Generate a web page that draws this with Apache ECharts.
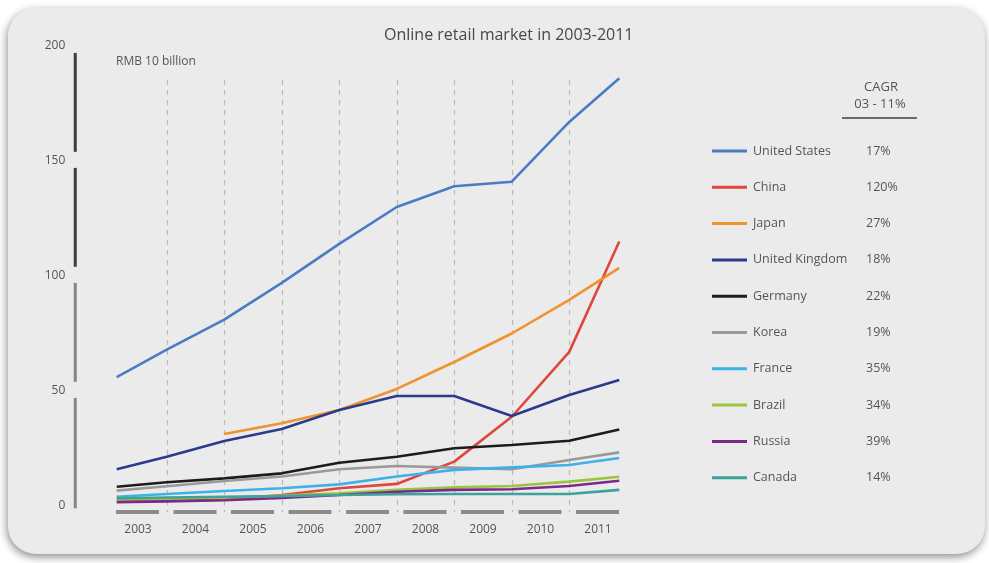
<!DOCTYPE html>
<html>
<head>
<meta charset="utf-8">
<script src="https://cdn.jsdelivr.net/npm/echarts@6/dist/echarts.min.js"></script>
<style>
  html, body { margin: 0; padding: 0; background: #ffffff; }
  #chart { width: 989px; height: 563px; }
</style>
</head>
<body>
<div id="chart"></div>
<script>
// Years shown along the bottom
const years = ['2003', '2004', '2005', '2006', '2007', '2008', '2009', '2010', '2011'];
// Horizontal position of each reading, in category units (0 = left edge of 2003, 9 = right edge of 2011)
const readingPos = [0.13, 1, 2, 3, 4, 5, 6, 7, 8, 8.87];

// Market size, RMB 10 billion
const unitedStates  = [56, 68, 81, 97, 114, 130, 139, 141, 167, 186];
const china         = [2.2, 2.3, 2.7, 4.8, 7.7, 9.6, 19.3, 38.8, 67, 115];
const japan         = [null, null, 31.3, 36, 41.7, 50.9, 62.6, 75, 89.6, 103.5];
const unitedKingdom = [16, 21.4, 28.3, 33.5, 41.7, 47.8, 47.8, 39.1, 48.3, 54.8];
const germany       = [8.4, 10.3, 12, 14.2, 18.8, 21.4, 25.1, 26.5, 28.4, 33.3];
const korea         = [6.7, 8.6, 10.9, 12.8, 16, 17.4, 16.7, 16, 20, 23.3];
const france        = [4, 5.2, 6.5, 7.7, 9.4, 12.8, 15.7, 16.8, 17.8, 20.9];
const brazil        = [2.8, 3.2, 3.6, 4.5, 5.5, 7, 8.1, 8.7, 10.6, 12.7];
const russia        = [1.6, 2, 2.5, 3.5, 4.8, 6.2, 7, 7.3, 8.7, 11];
const canada        = [3.4, 3.7, 4, 4.3, 4.8, 5.1, 5.2, 5.2, 5.2, 7];

const countries = ['United States', 'China', 'Japan', 'United Kingdom', 'Germany', 'Korea', 'France', 'Brazil', 'Russia', 'Canada'];
const cagr = ['17%', '120%', '27%', '18%', '22%', '19%', '35%', '34%', '39%', '14%'];
const seriesValues = [unitedStates, china, japan, unitedKingdom, germany, korea, france, brazil, russia, canada];
const colors = ['#4a7cc4', '#e0473c', '#f0922e', '#2a3b8c', '#1c1c1c', '#9a9a9a', '#3cb2e8', '#9cc43c', '#7a2a8c', '#3fa29a'];

const yTicks = [0, 50, 100, 150, 200];

const FONT = '"Open Sans", "Noto Sans", sans-serif';
const GRID_LEFT = 109.25;
const GRID_W = 517.5;

const chart = echarts.init(document.getElementById('chart'), null, { renderer: 'canvas' });

const cagrByName = {};
countries.forEach((c, i) => { cagrByName[c] = cagr[i]; });

const lineSeries = countries.map((name, i) => ({
  name: name,
  type: 'line',
  xAxisIndex: 0,
  yAxisIndex: 0,
  symbol: 'none',
  smooth: false,
  color: colors[i],
  lineStyle: { width: 2.6, color: colors[i] },
  z: 3,
  data: seriesValues[i]
    .map((v, k) => (v == null ? null : [readingPos[k], v]))
    .filter(p => p !== null)
}));

const option = {
  backgroundColor: '#ffffff',
  animation: false,
  textStyle: { fontFamily: FONT },
  title: {
    text: 'Online retail market in 2003-2011',
    left: 379,
    top: 22,
    textStyle: { fontFamily: FONT, fontSize: 16, fontWeight: 'normal', color: '#474747' }
  },
  legend: {
    orient: 'vertical',
    left: 707,
    top: 138,
    itemWidth: 35,
    itemHeight: 3,
    itemGap: 20.3,
    icon: 'rect',
    data: countries,
    formatter: name => `{n|${name}}{p|${cagrByName[name]}}`,
    textStyle: {
      fontFamily: FONT,
      fontSize: 12.5,
      color: '#555',
      lineHeight: 16,
      rich: {
        n: { width: 113, padding: [0, 0, 0, 1], fontSize: 12.5, color: '#555', fontFamily: FONT },
        p: { fontSize: 12.5, color: '#555', fontFamily: FONT }
      }
    }
  },
  grid: [
    // plot area for the lines
    { left: GRID_LEFT, top: 46, width: GRID_W, height: 460 },
    // year bands, dashed separators and the year labels
    { left: GRID_LEFT, top: 80, width: GRID_W, height: 432 }
  ],
  xAxis: [
    {
      type: 'value', gridIndex: 0, min: 0, max: 9,
      show: false
    },
    {
      type: 'category', gridIndex: 1, data: years, boundaryGap: true,
      axisLine: {
        show: true,
        lineStyle: { color: '#8c8c8c', width: 4, type: [43, 14.5], dashOffset: 50.75, cap: 'butt' }
      },
      axisTick: { show: false },
      axisLabel: { margin: 12, fontSize: 12, color: '#555', fontFamily: FONT },
      splitLine: {
        show: true, interval: 0, showMinLine: false, showMaxLine: false,
        lineStyle: { color: '#b8b8b8', width: 1.2, type: [5, 5] }
      }
    }
  ],
  yAxis: [
    {
      type: 'value', gridIndex: 0, min: 0, max: 200, interval: 50,
      offset: 34,
      axisLine: { show: false },
      axisTick: { show: false },
      splitLine: { show: false },
      axisLabel: { margin: 10, fontSize: 12, color: '#555', fontFamily: FONT }
    },
    { type: 'value', gridIndex: 1, show: false, min: 0, max: 1 }
  ],
  series: lineSeries
};

chart.setOption(option);

// Decorations positioned through the axis scales
const x0 = chart.convertToPixel({ xAxisIndex: 0 }, 0);
const axisX = x0 - 34;
const axisSegs = [];
for (let i = 0; i < yTicks.length - 1; i++) {
  const lo = yTicks[i] + (i === 0 ? -1 : 4);
  const hi = yTicks[i + 1] - 3;
  const yLo = chart.convertToPixel({ yAxisIndex: 0 }, lo);
  const yHi = chart.convertToPixel({ yAxisIndex: 0 }, hi);
  axisSegs.push({
    type: 'line',
    shape: { x1: axisX, y1: yLo, x2: axisX, y2: yHi },
    style: { stroke: i >= 2 ? '#3e3e3e' : '#858585', lineWidth: 3 },
    z: 5
  });
}

chart.setOption({
  graphic: [
    {
      type: 'rect',
      shape: { x: 8, y: 8, width: 977, height: 546, r: 28 },
      style: {
        fill: '#ebebeb',
        shadowBlur: 8,
        shadowOffsetY: 3,
        shadowOffsetX: -1,
        shadowColor: 'rgba(0,0,0,0.45)'
      },
      z: -10,
      silent: true
    },
    {
      type: 'text',
      left: 116,
      top: 56,
      style: { text: 'RMB 10 billion', fontSize: 12, fill: '#555', fontFamily: FONT },
      z: 5
    },
    {
      type: 'text',
      x: 881, y: 87,
      style: { text: 'CAGR', fontSize: 13, fill: '#555', fontFamily: FONT, align: 'center', verticalAlign: 'middle' },
      z: 5
    },
    {
      type: 'text',
      x: 880, y: 104,
      style: { text: '03 - 11%', fontSize: 13, fill: '#555', fontFamily: FONT, align: 'center', verticalAlign: 'middle' },
      z: 5
    },
    {
      type: 'line',
      shape: { x1: 842, y1: 118, x2: 917, y2: 118 },
      style: { stroke: '#6a6a6a', lineWidth: 2 },
      z: 5
    }
  ].concat(axisSegs)
});
</script>
</body>
</html>
